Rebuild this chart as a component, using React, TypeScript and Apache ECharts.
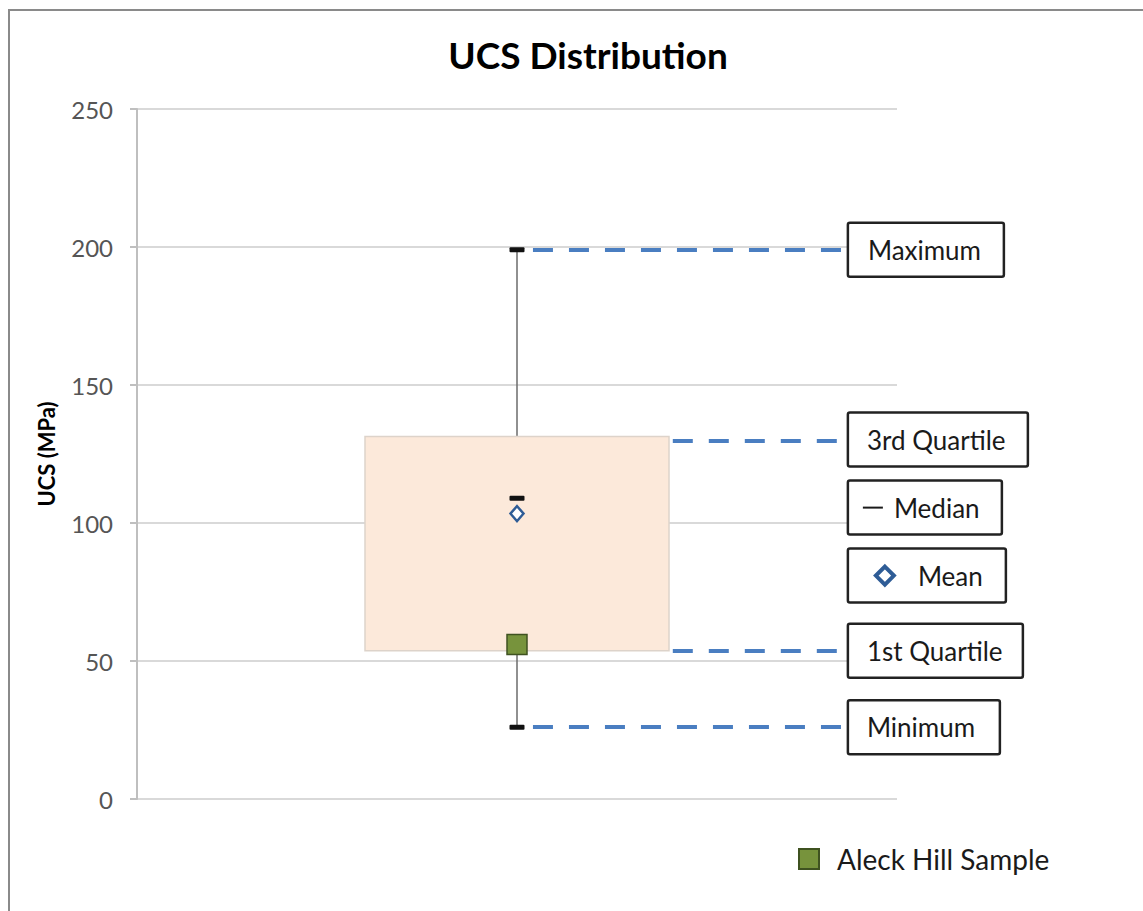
import { useEffect, useRef } from "react";
import * as echarts from "echarts";

const chartTitle = "UCS Distribution";
const yAxisTitle = "UCS (MPa)";
const yTicks = [0, 50, 100, 150, 200, 250];
const statNames = ["Minimum", "1st Quartile", "Median", "Mean", "3rd Quartile", "Maximum"];
const statValues = [26, 53.7, 109, 103.4, 131.3, 199];
const sampleName = "Aleck Hill Sample";
const sampleValues = [56];

export default function App() {
  const ref = useRef<HTMLDivElement>(null);
  useEffect(() => {
    const chart = echarts.init(ref.current!, null, { renderer: "svg" });
    const [vMin, vQ1, vMed, vMean, vQ3, vMax] = statValues;
    const [nMin, nQ1, nMed, nMean, nQ3, nMax] = statNames;
    const ff = "Lato, 'Noto Sans', sans-serif";
    const labelFont = "26px " + ff;

    const boxRender = (_p: any, api: any) => {
      const [xL, yQ3] = api.coord([0.3, vQ3]);
      const [xR, yQ1] = api.coord([0.7, vQ1]);
      const [xc, yMax] = api.coord([0.5, vMax]);
      const yMin = api.coord([0.5, vMin])[1];
      const yMed = api.coord([0.5, vMed])[1];
      const wStyle = { stroke: "#6b6b6b", lineWidth: 1.5 };
      return {
        type: "group",
        children: [
          { type: "line", shape: { x1: xc, y1: yMax, x2: xc, y2: yQ3 }, style: wStyle },
          { type: "line", shape: { x1: xc, y1: yQ1, x2: xc, y2: yMin }, style: wStyle },
          {
            type: "rect",
            shape: { x: xL, y: yQ3, width: xR - xL, height: yQ1 - yQ3 },
            style: { fill: "#FCE9DA", stroke: "#DDD3CA", lineWidth: 1.5 },
          },
          { type: "rect", shape: { x: xc - 7.5, y: yMax - 2.5, width: 15, height: 5, r: 1 }, style: { fill: "#111" } },
          { type: "rect", shape: { x: xc - 7.5, y: yMin - 2.5, width: 15, height: 5, r: 1 }, style: { fill: "#111" } },
          { type: "rect", shape: { x: xc - 7.5, y: yMed - 2.5, width: 15, height: 5, r: 1 }, style: { fill: "#111" } },
        ],
      };
    };

    const annRender = (_p: any, api: any) => {
      const x0 = api.coord([0.938, 0])[0] - 2;
      const yMaxP = api.coord([0.5, vMax])[1];
      const yQ3P = api.coord([0.5, vQ3])[1] + 3;
      const yQ1P = api.coord([0.5, vQ1])[1];
      const yMinP = api.coord([0.5, vMin])[1];
      const h = 54;
      const boxStyle = { fill: "#fff", stroke: "#222", lineWidth: 2.5 };
      const box = (cy: number, w: number) => ({
        type: "rect",
        shape: { x: x0, y: cy - h / 2, width: w, height: h, r: 2 },
        style: boxStyle,
      });
      const txt = (x: number, cy: number, t: string) => ({
        type: "text",
        style: { x, y: cy, text: t, font: labelFont, fill: "#1a1a1a", align: "left", verticalAlign: "middle" },
      });
      const yMedBox = yQ3P + h + 14;
      const yMeanBox = yMedBox + h + 14;
      const d = 9;
      return {
        type: "group",
        children: [
          box(yMaxP, 156), txt(x0 + 20, yMaxP, nMax),
          box(yQ3P, 180), txt(x0 + 19, yQ3P, nQ3),
          box(yMedBox, 154),
          { type: "rect", shape: { x: x0 + 15, y: yMedBox - 1, width: 20, height: 2 }, style: { fill: "#1a1a1a" } },
          txt(x0 + 46, yMedBox, nMed),
          box(yMeanBox, 158),
          {
            type: "polygon",
            shape: { points: [[x0 + 37, yMeanBox - d], [x0 + 37 + d, yMeanBox], [x0 + 37, yMeanBox + d], [x0 + 37 - d, yMeanBox]] },
            style: { fill: "#fff", stroke: "#2E5C96", lineWidth: 4 },
          },
          txt(x0 + 70, yMeanBox, nMean),
          box(yQ1P, 175), txt(x0 + 19, yQ1P, nQ1),
          box(yMinP, 152), txt(x0 + 19, yMinP, nMin),
        ],
      };
    };

    const guide = (x0: number, v: number, dy = 0) => ({ coords: [[x0, v + dy], [0.938, v + dy]] });

    chart.setOption({
      animation: false,
      backgroundColor: "#fff",
      title: {
        text: chartTitle,
        left: 583,
        textAlign: "center",
        top: 31,
        textStyle: { fontFamily: ff, fontSize: 37, fontWeight: "bold", color: "#000" },
      },
      graphic: [
        {
          type: "rect",
          shape: { x: 9, y: 10, width: 1300, height: 1000 },
          style: { fill: "none", stroke: "#8a8a8a", lineWidth: 2 },
          silent: true,
        },
      ],
      legend: {
        data: [sampleName],
        left: 793,
        top: 840,
        icon: "rect",
        itemWidth: 20,
        itemHeight: 20,
        textStyle: { fontFamily: ff, fontSize: 28, color: "#1a1a1a", padding: [0, 0, 0, 13] },
      },
      grid: { left: 137, right: 246, top: 109, bottom: 112 },
      xAxis: { type: "value", min: 0, max: 1, show: false },
      yAxis: {
        type: "value",
        min: yTicks[0],
        max: yTicks[yTicks.length - 1],
        interval: yTicks[1] - yTicks[0],
        name: yAxisTitle,
        nameLocation: "middle",
        nameRotate: 90,
        nameGap: 80,
        nameTextStyle: { fontFamily: ff, fontSize: 22, fontWeight: "bold", color: "#000" },
        axisLine: { show: true, lineStyle: { color: "#BFBFBF", width: 2 } },
        axisTick: { show: true, length: 7, lineStyle: { color: "#BFBFBF", width: 2 } },
        axisLabel: { margin: 24, fontFamily: ff, fontSize: 24, color: "#555" },
        splitLine: { show: true, lineStyle: { color: "#D9D9D9", width: 2 } },
      },
      series: [
        {
          type: "custom",
          name: "box",
          renderItem: boxRender,
          data: [[0.5, vQ1]],
          clip: false,
          z: 2,
        },
        {
          type: "lines",
          coordinateSystem: "cartesian2d",
          name: "guides",
          data: [guide(0.521, vMax), guide(0.705, vQ3, -1.5), guide(0.705, vQ1), guide(0.521, vMin)],
          lineStyle: { color: "#4A7EC1", width: 4, type: [20, 16], opacity: 1 },
          z: 3,
        },
        {
          type: "custom",
          name: "annotations",
          renderItem: annRender,
          data: [[0.5, vQ1]],
          clip: false,
          z: 4,
        },
        {
          type: "scatter",
          name: "Mean",
          data: [[0.5, vMean]],
          symbol: "diamond",
          symbolSize: [13, 15],
          itemStyle: { color: "#fff", borderColor: "#2E5C96", borderWidth: 2.5, opacity: 1 },
          z: 5,
        },
        {
          type: "scatter",
          name: sampleName,
          data: sampleValues.map((v) => [0.5, v]),
          symbol: "rect",
          symbolSize: 20,
          itemStyle: { color: "#77933C", borderColor: "#3F5220", borderWidth: 1.5, opacity: 1 },
          z: 6,
        },
      ],
    });
    return () => chart.dispose();
  }, []);
  return (
    <div
      ref={ref}
      style={{ position: "absolute", left: 0, top: 0, width: 1143, height: 911 }}
    />
  );
}
